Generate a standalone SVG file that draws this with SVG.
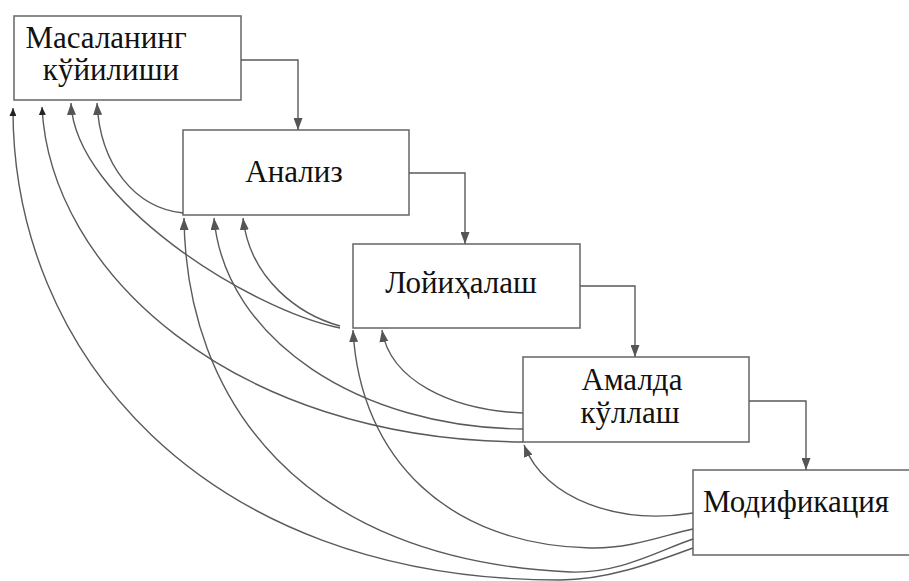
<svg xmlns="http://www.w3.org/2000/svg" width="909" height="581" viewBox="0 0 909 581">
<style>
.box{fill:#fff;stroke:#6e6e6e;stroke-width:1.6}
.lbl{font-family:"Liberation Serif","Times New Roman",serif;font-size:31px;fill:#111;text-anchor:middle}
.c{fill:none;stroke:#5a5a5a;stroke-width:1.4;marker-end:url(#ah)}
.cs{fill:none;stroke:#5a5a5a;stroke-width:1.4;marker-end:url(#ahs)}
</style>
<defs>
<marker id="ah" markerUnits="userSpaceOnUse" markerWidth="13" markerHeight="9" refX="12" refY="4.5" orient="auto" viewBox="0 0 13 9">
<path d="M0,0 L12,4.5 L0,9 z" fill="#555"/>
</marker>
<marker id="ahs" markerUnits="userSpaceOnUse" markerWidth="9" markerHeight="7" refX="8" refY="3.5" orient="auto" viewBox="0 0 9 7">
<path d="M0,0 L8,3.5 L0,7 z" fill="#222"/>
</marker>
</defs>
<rect width="909" height="581" fill="#fff"/>
<g id="node-1">
<rect class="box" x="14" y="16" width="227" height="84"/>
<text class="lbl" x="106" y="48">Масаланинг</text>
<text class="lbl" x="111" y="80">кўйилиши</text>
</g>
<g id="node-2">
<rect class="box" x="183" y="130" width="226" height="85"/>
<text class="lbl" x="294" y="182">Анализ</text>
</g>
<g id="node-3">
<rect class="box" x="353" y="244" width="227" height="84"/>
<text class="lbl" x="461" y="293">Лойиҳалаш</text>
</g>
<g id="node-4">
<rect class="box" x="523" y="357" width="226" height="85"/>
<text class="lbl" x="632" y="390">Амалда</text>
<text class="lbl" x="630" y="423">кўллаш</text>
</g>
<g id="node-5">
<rect class="box" x="693" y="470" width="230" height="85"/>
<text class="lbl" x="796" y="512">Модификация</text>
</g>
<g id="connectors">
<path class="c" d="M241,60 H298 V130"/>
<path class="c" d="M409,173 H465 V244"/>
<path class="c" d="M580,286 H635 V357"/>
<path class="c" d="M749,401 H806 V470"/>
<path class="c" d="M183,213 C135,208 100,165 97,103"/>
<path class="c" d="M340,328 C250,310 75,200 71,103"/>
<path class="c" d="M340,326 C300,315 250,280 243,218"/>
<path class="c" d="M523,413 C450,410 390,380 382,330"/>
<path class="cs" d="M523,442 C230,440 50,270 42,107"/>
<path class="c" d="M523,429 C360,428 225,340 214,218"/>
<path class="c" d="M693,513 C620,525 545,500 524,445"/>
<path class="c" d="M693,529 C665,535 630,549 590,548 C450,545 360,460 353,330"/>
<path class="c" d="M693,539 C660,550 620,574 570,572 C300,560 186,400 184,218"/>
<path class="cs" d="M693,548 C660,560 610,580 560,580 C200,580 12,350 13,108"/>
</g>
</svg>
